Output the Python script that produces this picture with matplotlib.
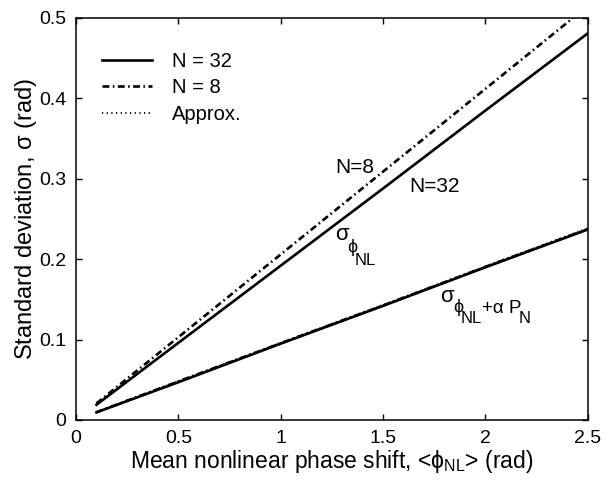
import matplotlib
matplotlib.use("Agg")
import matplotlib.pyplot as plt
from matplotlib.transforms import offset_copy

plt.rcParams['font.family'] = ['Liberation Sans', 'DejaVu Sans']
plt.rcParams['mathtext.fontset'] = 'custom'
plt.rcParams['mathtext.rm'] = 'Liberation Sans'
plt.rcParams['mathtext.it'] = 'Liberation Sans'
plt.rcParams['mathtext.bf'] = 'Liberation Sans:bold'

# mean nonlinear phase shift (rad)
phi = [0.1, 0.5, 1.0, 1.5, 2.0, 2.5]

# std of phi_NL alone
sig_phi_32 = [0.019, 0.096, 0.192, 0.288, 0.385, 0.481]
sig_phi_8 = [0.0206, 0.103, 0.206, 0.309, 0.412, 0.515]

# std of phi_NL + alpha P_N
sig_tot_32 = [0.0095, 0.047, 0.095, 0.142, 0.190, 0.237]
sig_tot_8 = [0.0097, 0.048, 0.0955, 0.1425, 0.1905, 0.2375]
sig_tot_approx = [0.0099, 0.0482, 0.096, 0.1432, 0.1912, 0.2385]

fig = plt.figure(figsize=(6.13, 4.8), dpi=100)
ax = fig.add_axes([0.124, 0.125, 0.835, 0.8375])

lw = 1.9
dashdot = (0, (2.6, 1.3, 0.6, 1.3))
ax.plot(phi, sig_phi_32, color='k', ls='-', lw=lw, label='N = 32')
ax.plot(phi, sig_phi_8, color='k', ls=dashdot, lw=lw, label='N = 8')
ax.plot(phi, sig_tot_approx, color='k', ls=(0, (0.6, 1.8)), lw=1.4, label='Approx.')
ax.plot(phi, sig_tot_8, color='k', ls=dashdot, lw=lw)
ax.plot(phi, sig_tot_32, color='k', ls='-', lw=lw)


def piece(x, y, s, dx, dy, size):
    # dx, dy in pixels relative to the anchor point
    tr = offset_copy(ax.transData, fig=fig, x=dx, y=dy, units='dots')
    ax.text(x, y, s, transform=tr, fontsize=size)


ax.text(1.265, 0.307, 'N=8', fontsize=15)
ax.text(1.63, 0.284, 'N=32', fontsize=15)

# sigma_phi_NL
piece(1.265, 0.224, 'σ', 0, 0, 16)
piece(1.265, 0.224, 'ϕ', 12, -12, 13)
piece(1.265, 0.224, 'NL', 20, -25, 12)

# sigma_(phi_NL + alpha P_N)
piece(1.777, 0.147, 'σ', 0, 0, 16)
piece(1.777, 0.147, 'ϕ', 13, -10, 13)
piece(1.777, 0.147, 'NL', 21, -21, 12)
piece(1.777, 0.147, '+α P', 42, -11, 13.5)
piece(1.777, 0.147, 'N', 79, -21, 12)

ax.set_xlim(0, 2.5)
ax.set_ylim(0, 0.5)
ax.set_xticks([0, 0.5, 1, 1.5, 2, 2.5])
ax.set_xticklabels(['0', '0.5', '1', '1.5', '2', '2.5'])
ax.set_yticks([0, 0.1, 0.2, 0.3, 0.4, 0.5])
ax.set_yticklabels(['0', '0.1', '0.2', '0.3', '0.4', '0.5'])
ax.tick_params(direction='in', top=True, right=True, length=4, width=1,
               labelsize=14, pad=7)
for s in ax.spines.values():
    s.set_linewidth(1.1)

ax.set_xlabel(r'Mean nonlinear phase shift, <$\phi_{\rm NL}$> (rad)', fontsize=16.5, labelpad=1)
ax.set_ylabel(r'Standard deviation, $\sigma$ (rad)', fontsize=17, labelpad=0)

ax.legend(loc='upper left', frameon=False, fontsize=14.5, handlelength=2.5,
          handletextpad=1.0, labelspacing=0.36, borderpad=0, borderaxespad=0,
          bbox_to_anchor=(0.05, 0.915))

plt.savefig('out.png', dpi=100)
